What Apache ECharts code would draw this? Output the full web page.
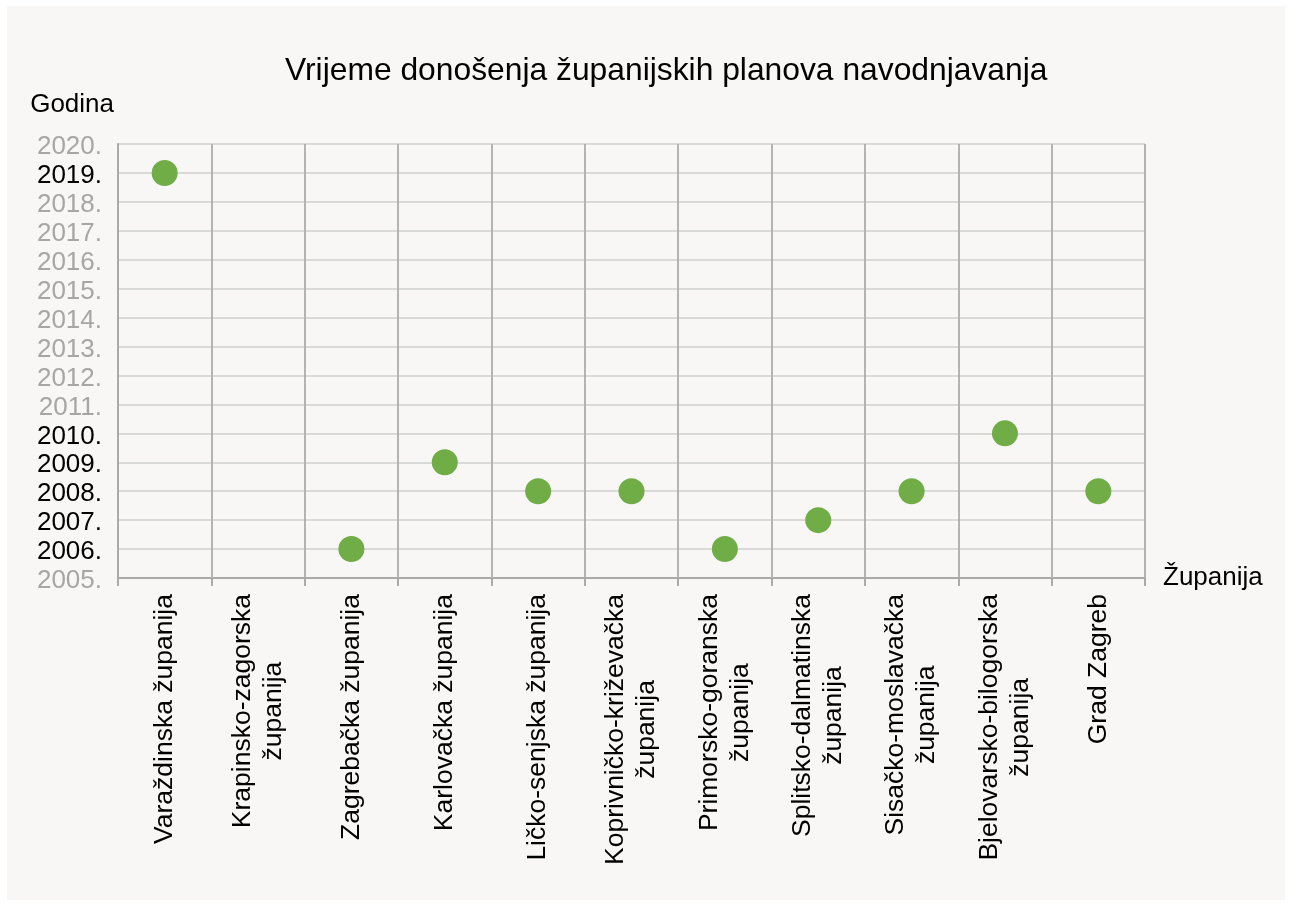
<!DOCTYPE html>
<html>
<head>
<meta charset="utf-8">
<script src="https://cdn.jsdelivr.net/npm/echarts@6/dist/echarts.min.js"></script>
<style>
    html, body { margin: 0; padding: 0; background: #fff; }
    #panel { position: absolute; left: 7px; top: 6px; width: 1278px; height: 894px; background: #f8f7f5; }
    #chart { position: absolute; left: 0; top: 0; width: 1291px; height: 907px; }
</style>
</head>
<body>
<div id="panel"></div>
<div id="chart"></div>
<script>
var zupanije = [
    'Varaždinska županija',
    'Krapinsko-zagorska\nžupanija',
    'Zagrebačka županija',
    'Karlovačka županija',
    'Ličko-senjska županija',
    'Koprivničko-križevačka\nžupanija',
    'Primorsko-goranska\nžupanija',
    'Splitsko-dalmatinska\nžupanija',
    'Sisačko-moslavačka\nžupanija',
    'Bjelovarsko-bilogorska\nžupanija',
    'Grad Zagreb'
];
// godina donošenja plana (null = nema podatka)
var godine = [2019, null, 2006, 2009, 2008, 2008, 2006, 2007, 2008, 2010, 2008];
var yMin = 2005,
    yMax = 2020;

var font = 'Liberation Sans, Arial, sans-serif';

var chart = echarts.init(document.getElementById('chart'));

var option = {
    backgroundColor: 'transparent',
    title: {
        text: 'Vrijeme donošenja županijskih planova navodnjavanja',
        left: 280,
        top: 50,
        textStyle: {
            fontFamily: font,
            fontSize: 31.8,
            fontWeight: 'normal',
            color: '#000'
        }
    },
    grid: {
        left: 118,
        right: 146,
        top: 144,
        bottom: 329,
        containLabel: false,
        outerBoundsMode: 'none'
    },
    xAxis: {
        type: 'category',
        data: zupanije,
        boundaryGap: true,
        name: 'Županija',
        nameLocation: 'end',
        nameGap: 18,
        nameTextStyle: {
            fontFamily: font,
            fontSize: 26,
            color: '#000',
            verticalAlign: 'middle',
            padding: [0, 0, 8, 0]
        },
        axisLine: {
            lineStyle: { color: '#aaaaaa', width: 2 }
        },
        axisTick: {
            show: true,
            length: 8,
            lineStyle: { color: '#aaaaaa', width: 2 }
        },
        splitLine: {
            show: true,
            lineStyle: { color: '#b3b3b3', width: 2 }
        },
        axisLabel: {
            interval: 0,
            rotate: 90,
            margin: 16,
            formatter: function(v) {
                return v.split('\n').map(function(s) {
                    return '{c|' + s + '}';
                }).join('\n');
            },
            rich: {
                c: {
                    align: 'center',
                    fontFamily: font,
                    fontSize: 26.5,
                    lineHeight: 31,
                    color: '#000'
                }
            }
        }
    },
    yAxis: {
        type: 'value',
        min: yMin,
        max: yMax,
        interval: 1,
        name: 'Godina',
        nameLocation: 'end',
        nameGap: 26,
        nameTextStyle: {
            fontFamily: font,
            fontSize: 26,
            color: '#000',
            align: 'right',
            verticalAlign: 'bottom',
            padding: [0, 4, 0, 0]
        },
        axisLine: {
            show: true,
            lineStyle: { color: '#aaaaaa', width: 2 }
        },
        axisTick: { show: false },
        splitLine: {
            show: true,
            lineStyle: { color: '#d9d9d9', width: 2 }
        },
        axisLabel: {
            margin: 16,
            formatter: function(v) {
                var boja = godine.indexOf(Number(v)) > -1 ? 'b' : 'g';
                return '{' + boja + '|' + v + '.}';
            },
            //godine s podatkom su crne, ostale sive
            rich: {
                b: { fontFamily: font, fontSize: 26, color: '#000', padding: [6, 0, 0, 0] },
                g: { fontFamily: font, fontSize: 26, color: '#a6a6a6', padding: [6, 0, 0, 0] }
            }
        }
    },
    series: [{
        type: 'scatter',
        data: godine,
        symbol: 'circle',
        symbolSize: 26,
        itemStyle: { color: '#70ad47', opacity: 1 }
    }]
};
chart.setOption(option);
</script>
</body>
</html>
